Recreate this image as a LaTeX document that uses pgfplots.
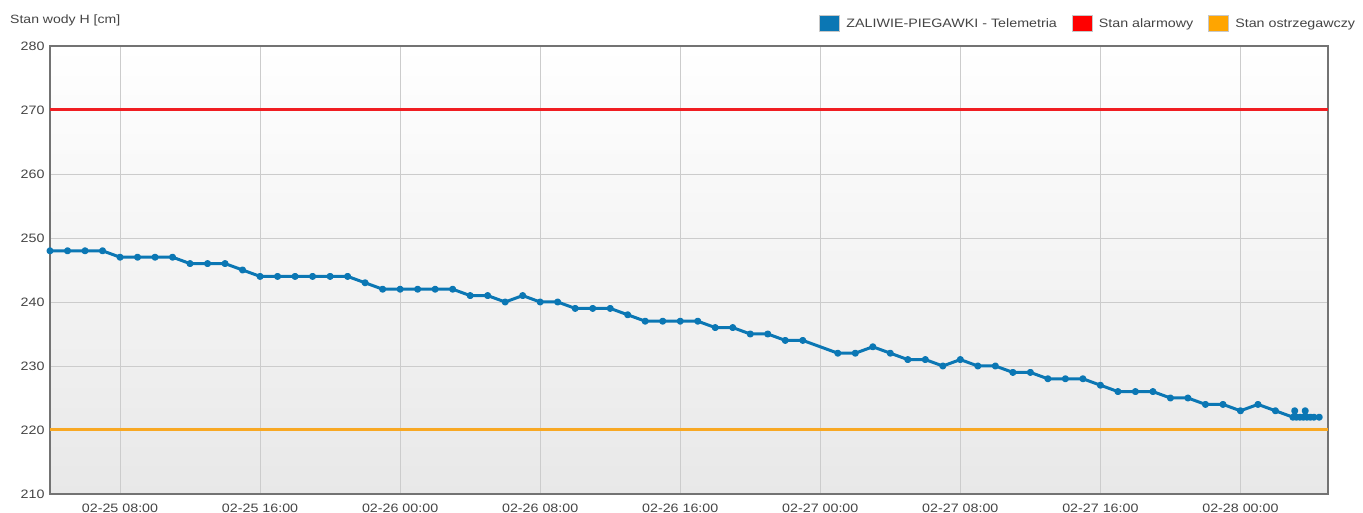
\documentclass[border=0pt]{standalone}
\usepackage{pgfplots}
\pgfplotsset{compat=1.18}
\usepackage{fontspec}
\setmainfont{Liberation Sans}[FakeStretch=1.17]
\definecolor{ser}{HTML}{0B77B4}
\definecolor{alarm}{HTML}{F01E22}
\definecolor{warn}{HTML}{F8A823}
\definecolor{legalarm}{HTML}{FF0000}
\definecolor{legwarn}{HTML}{FFA500}
\definecolor{txt}{HTML}{444444}
\begin{document}
\begin{tikzpicture}[x=1pt,y=1pt]
\path[use as bounding box] (0,0) rectangle (1363,513);
\begin{axis}[
  at={(50pt,19pt)}, anchor=south west,
  width=1278pt, height=448pt, scale only axis,
  xmin=4, xmax=77, ymin=210, ymax=280,
  xtick={8,16,...,72},
  xticklabels={02-25 08:00, 02-25 16:00, 02-26 00:00, 02-26 08:00, 02-26 16:00, 02-27 00:00, 02-27 08:00, 02-27 16:00, 02-28 00:00},
  ytick={210,220,...,280},
  grid=major,
  major grid style={draw=black!20, line width=0.9pt},
  major tick length=0pt,
  axis line style={draw=black!55, line width=1.1pt},
  tick label style={font=\fontsize{12.2}{14}\selectfont, text=txt},
  yticklabel style={xshift=-2pt},
  xticklabel style={yshift=-6pt},
  /pgf/number format/assume math mode=true,
  axis background/.style={top color=white, bottom color=black!9},
  clip=false,
  legend columns=3,
  legend style={at={(1.0245,1.050)}, anchor=east, draw=none, fill=none,
    font=\fontsize{12.2}{14}\selectfont, text=txt,
    /tikz/every even column/.append style={column sep=14pt},
    /tikz/every odd column/.append style={column sep=5pt},
    nodes={inner sep=1pt}},
  legend image code/.code={\draw[draw=black!22, line width=1pt, fill] (0pt,-8pt) rectangle (20pt,8pt);},
]
\addplot[color=ser, line width=3pt, mark=*, mark size=2pt, line join=round] table {
x y
4 248
5 248
6 248
7 248
8 247
9 247
10 247
11 247
12 246
13 246
14 246
15 245
16 244
17 244
18 244
19 244
20 244
21 244
22 243
23 242
24 242
25 242
26 242
27 242
28 241
29 241
30 240
31 241
32 240
33 240
34 239
35 239
36 239
37 238
38 237
39 237
40 237
41 237
42 236
43 236
44 235
45 235
46 234
47 234
49 232
50 232
51 233
52 232
53 231
54 231
55 230
56 231
57 230
58 230
59 229
60 229
61 228
62 228
63 228
64 227
65 226
66 226
67 226
68 225
69 225
70 224
71 224
72 223
73 224
74 223
75 222
75.1 223
75.2 222
75.4 222
75.6 222
75.7 223
75.8 222
76.0 222
76.2 222
76.5 222
};
\addlegendentry{ZALIWIE-PIEGAWKI - Telemetria}
\addplot[color=alarm, line width=3pt, forget plot] coordinates {(4,270) (77,270)};
\addplot[color=warn, line width=3pt, forget plot] coordinates {(4,220) (77,220)};
\addlegendimage{color=legalarm}
\addlegendentry{Stan alarmowy}
\addlegendimage{color=legwarn}
\addlegendentry{Stan ostrzegawczy}
\node[anchor=west, text=txt, font=\fontsize{12}{14}\selectfont, inner sep=0pt] at (rel axis cs:-0.0313,1.058) {Stan wody H [cm]};
\end{axis}
\end{tikzpicture}
\end{document}
